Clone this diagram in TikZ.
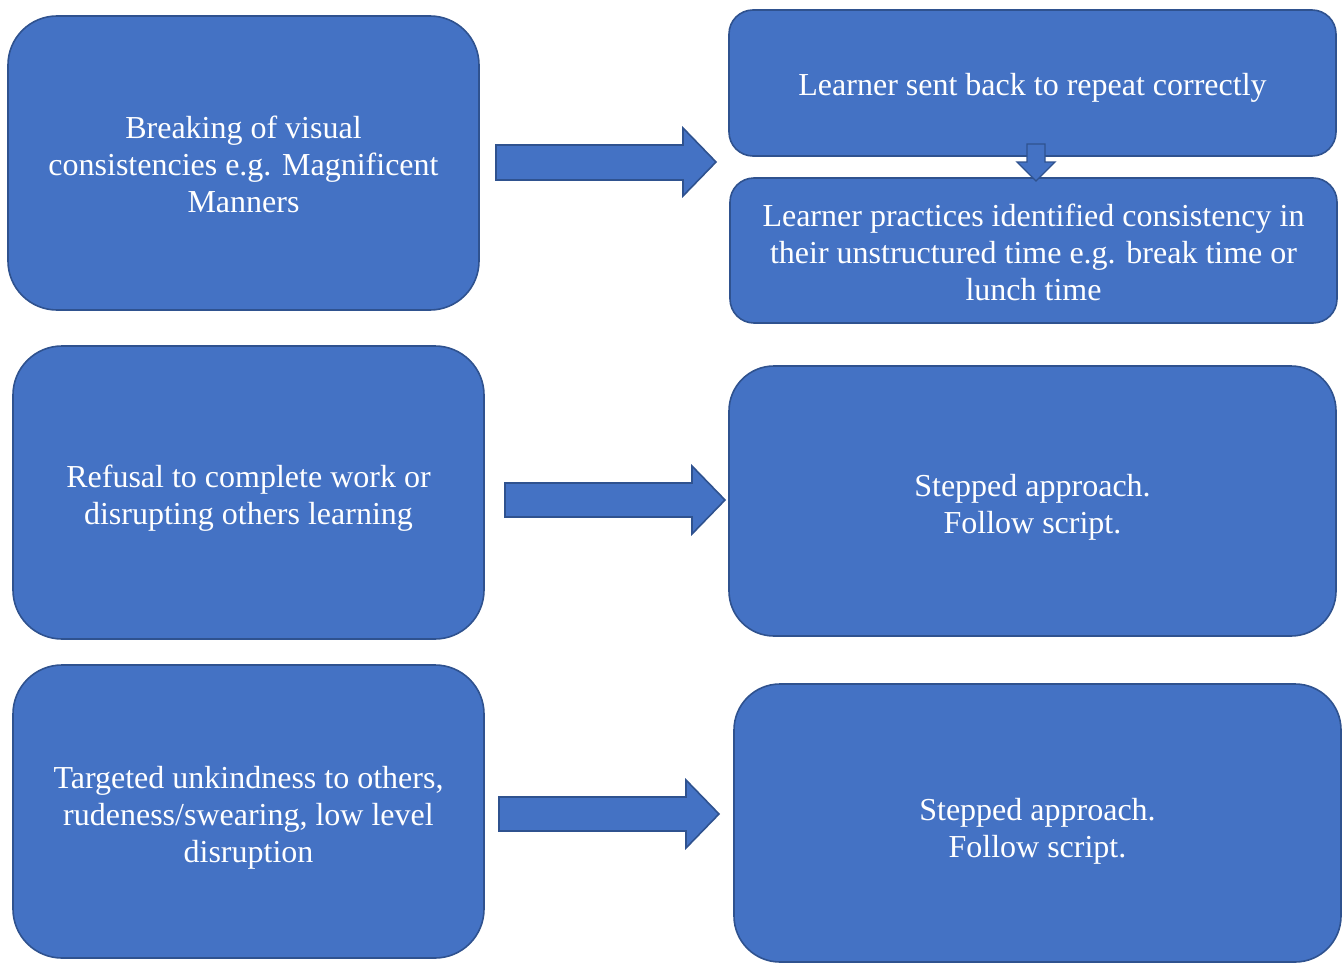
\documentclass[tikz,border=0pt]{standalone}
\usepackage{fontspec}
\setmainfont{Liberation Serif}
\definecolor{boxfill}{HTML}{4472C4}
\definecolor{boxline}{HTML}{2F528F}
\begin{document}
\begin{tikzpicture}[x=1pt,y=-1pt,
  box/.style={draw=boxline,line width=1.6pt,fill=boxfill,inner sep=0pt},
  txt/.style={text=white,align=center,inner sep=0pt,font=\fontsize{32}{37}\selectfont},
  blockarrow/.style={draw=boxline,line width=1.6pt,fill=boxfill,line join=miter}]
\useasboundingbox (0,0) rectangle (1343,963);
% boxes
\node[box,minimum width=471pt,minimum height=294pt,rounded corners=49pt] (b1) at (243.5,163) {};
\node[box,minimum width=607pt,minimum height=146pt,rounded corners=24pt] (b2) at (1032.5,83) {};
\node[box,minimum width=607pt,minimum height=145pt,rounded corners=24pt] (b3) at (1033.5,250.5) {};
\node[box,minimum width=471pt,minimum height=293pt,rounded corners=49pt] (b4) at (248.5,492.5) {};
\node[box,minimum width=607pt,minimum height=270pt,rounded corners=45pt] (b5) at (1032.5,501) {};
\node[box,minimum width=471pt,minimum height=293pt,rounded corners=49pt] (b6) at (248.5,811.5) {};
\node[box,minimum width=607pt,minimum height=278pt,rounded corners=46pt] (b7) at (1037.5,823) {};
% texts
\node[txt] (t1) at ([yshift=-1pt]b1.center) {Breaking of visual\\consistencies e.g. Magnificent\\Manners};
\node[txt] (t2) at ([yshift=-5pt]b2.center) {Learner sent back to repeat correctly};
\node[txt] (t3) at ([yshift=-2pt]b3.center) {Learner practices identified consistency in\\their unstructured time e.g. break time or\\lunch time};
\node[txt] (t4) at ([yshift=-6pt]b4.center) {Refusal to complete work or\\disrupting others learning};
\node[txt] (t5) at ([yshift=-6pt]b5.center) {Stepped approach.\\Follow script.};
\node[txt] (t6) at ([yshift=-6pt]b6.center) {Targeted unkindness to others,\\rudeness/swearing, low level\\disruption};
\node[txt] (t7) at ([yshift=-8pt]b7.center) {Stepped approach.\\Follow script.};
% block arrows
\draw[blockarrow] (496,145) -- (683,145) -- (683,128) -- (716,162) -- (683,196) -- (683,180) -- (496,180) -- cycle;
\draw[blockarrow] (505,483) -- (692,483) -- (692,466) -- (725,500) -- (692,534) -- (692,517) -- (505,517) -- cycle;
\draw[blockarrow] (499,797) -- (686,797) -- (686,780) -- (719,814) -- (686,848) -- (686,831) -- (499,831) -- cycle;
% small down arrow
\draw[blockarrow,line width=1.3pt] (1027,144) -- (1045,144) -- (1045,162) -- (1055,162) -- (1036,181) -- (1017,162) -- (1027,162) -- cycle;
\end{tikzpicture}
\end{document}
